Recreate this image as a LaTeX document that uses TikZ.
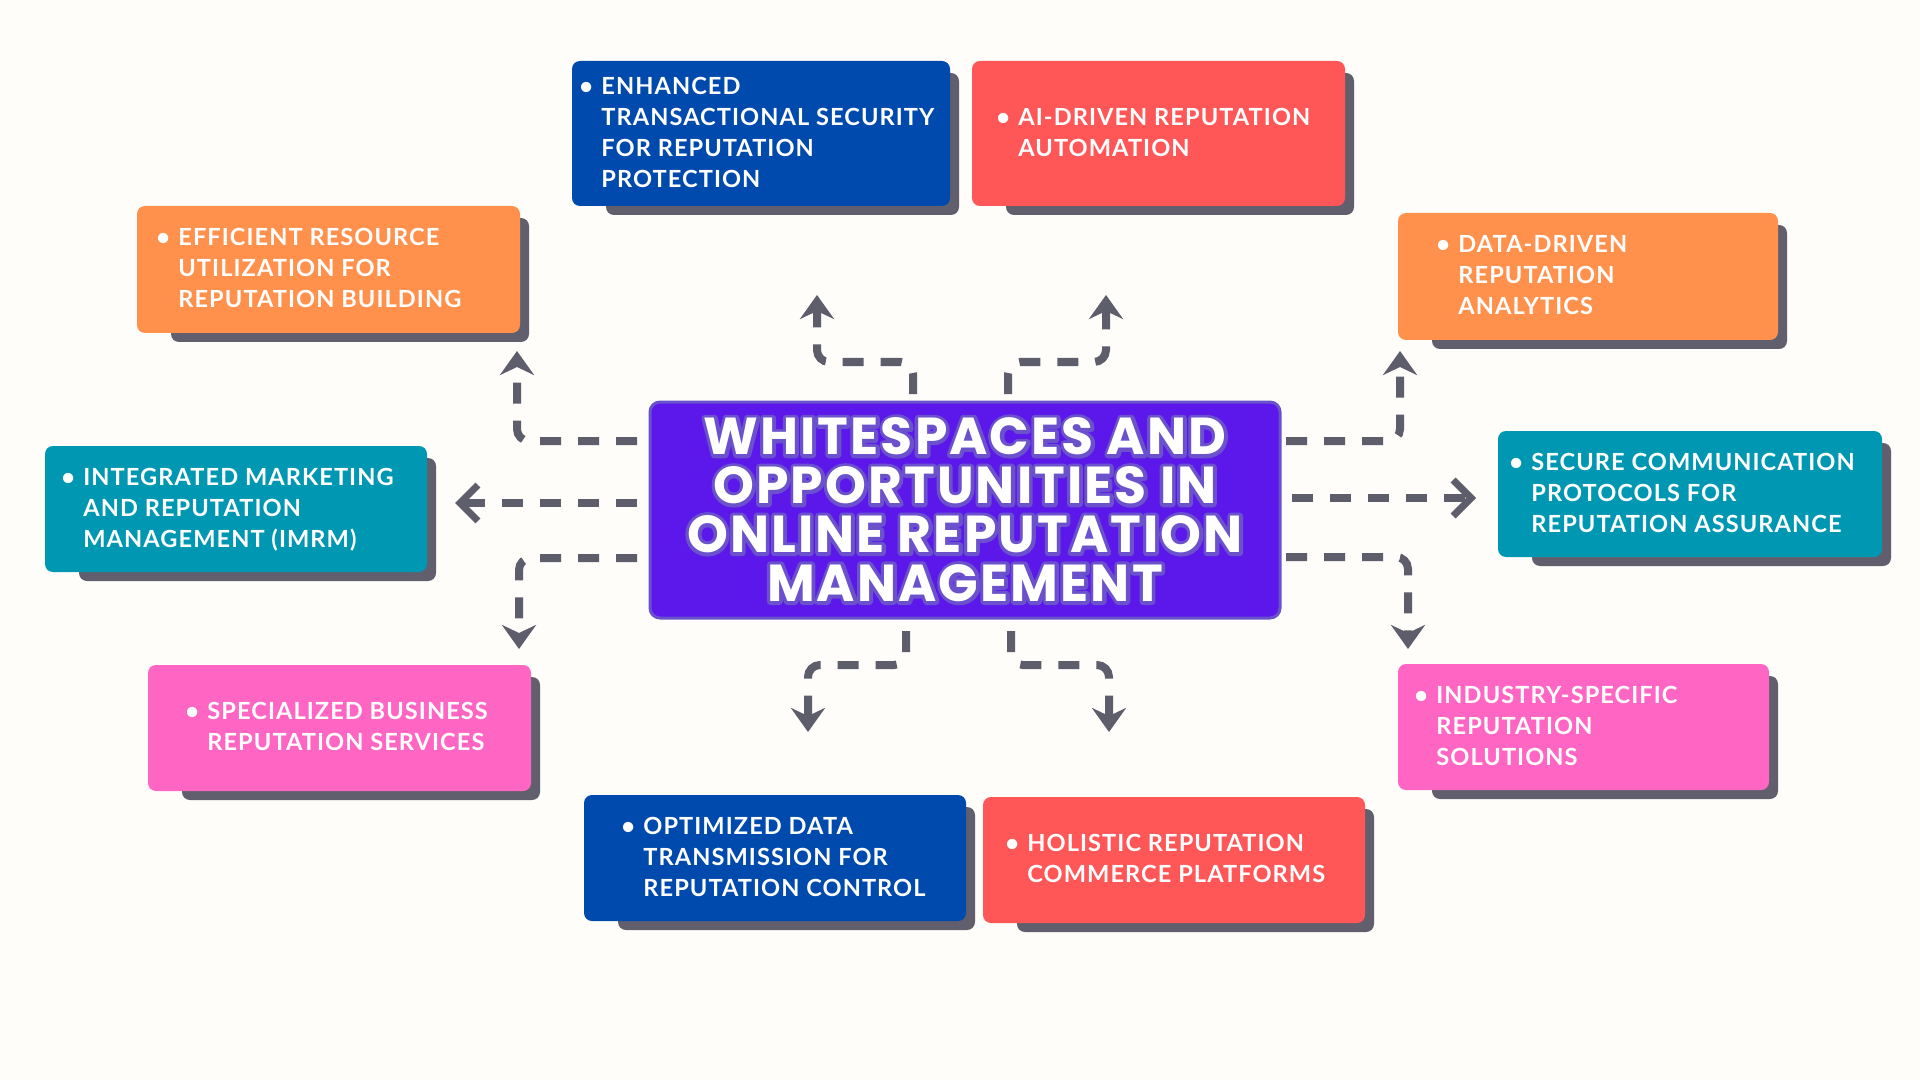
\documentclass[tikz,border=0pt]{standalone}
\usepackage{fontspec}
\setmainfont{Lato}[LetterSpace=4.5]
\newfontfamily\titlefont{Poppins}[LetterSpace=4.0]
\usetikzlibrary{arrows.meta}

\definecolor{bgcream}{HTML}{FEFDFA}
\definecolor{boxroyal}{HTML}{004AAD}
\definecolor{boxcoral}{HTML}{FF5757}
\definecolor{boxorange}{HTML}{FF914D}
\definecolor{boxteal}{HTML}{0097B2}
\definecolor{boxpink}{HTML}{FF66C4}
\definecolor{titleviolet}{HTML}{5C17EB}
\definecolor{titlerim}{HTML}{6A52CC}
\definecolor{shadowgray}{HTML}{615F6E}
\definecolor{flowgray}{HTML}{5E5D6C}

\tikzset{
  titlebox/.style={fill=titleviolet, draw=titlerim, line width=1.5pt,
    rounded corners=5pt, minimum width=315pt, minimum height=108pt,
    align=center, text=white, font=\titlefont\bfseries\fontsize{26}{24.5}\selectfont},
  topictext/.style={anchor=west, inner sep=0pt, text=white,
    font=\bfseries\fontsize{11.8}{15.5}\selectfont},
  flow/.style={draw=flowgray, line width=4pt, dash pattern=on 10.5pt off 8.5pt,
    rounded corners=6pt, -{Stealth[length=12pt, width=17pt, inset=4pt]}},
  flowstraight/.style={draw=flowgray, line width=4pt, dash pattern=on 10.5pt off 8.5pt,
    -{Straight Barb[length=9pt, width=18pt, line width=3.5pt]}},
}

% name, x0, y0, x1, y1, colour, text x, lines
\newcommand{\topic}[8]{%
  \fill[shadowgray, rounded corners=4pt] ({#2+34},{#3+12}) rectangle ({#4+9},{#5+9});
  \fill[#6, rounded corners=4pt] (#2,#3) rectangle (#4,#5);
  \node[topictext] (#1) at ({#7-22},{(#3+#5)/2+1})
    {\makebox[11pt][l]{\textbullet}\begin{tabular}[t]{@{}l@{}}#8\end{tabular}};
}

% title lines, drawn once as a lavender rim and once in white
\newcommand{\titlelines}{\begin{tabular}{@{}c@{}}WHITESPACES AND\\[-1.4pt]OPPORTUNITIES IN\\[-1.4pt]ONLINE REPUTATION\\[-1.4pt]MANAGEMENT\end{tabular}}
\newcommand{\rimon}{\special{pdf:literal direct 1 Tr 3.5 w 1 j 0.42 0.32 0.8 RG}}
\newcommand{\rimoff}{\special{pdf:literal direct 0 Tr 1 1 1 RG}}

\begin{document}
\begin{tikzpicture}[x=0.5pt, y=-0.5pt]
  \fill[bgcream] (0,0) rectangle (1920,1080);
  \useasboundingbox (0,0) rectangle (1920,1080);

  % topic boxes
  \topic{enhanced}{572}{61}{950}{206}{boxroyal}{601}{ENHANCED\\TRANSACTIONAL SECURITY\\FOR REPUTATION\\PROTECTION}
  \topic{aidriven}{972}{61}{1345}{206}{boxcoral}{1018}{AI-DRIVEN REPUTATION\\AUTOMATION}
  \topic{efficient}{137}{206}{520}{333}{boxorange}{178}{EFFICIENT RESOURCE\\UTILIZATION FOR\\REPUTATION BUILDING}
  \topic{datadriven}{1398}{213}{1778}{340}{boxorange}{1458}{DATA-DRIVEN\\REPUTATION\\ANALYTICS}
  \topic{integrated}{45}{446}{427}{572}{boxteal}{83}{INTEGRATED MARKETING\\AND REPUTATION\\MANAGEMENT (IMRM)}
  \topic{secure}{1498}{431}{1882}{557}{boxteal}{1531}{SECURE COMMUNICATION\\PROTOCOLS FOR\\REPUTATION ASSURANCE}
  \topic{specialized}{148}{665}{531}{791}{boxpink}{207}{SPECIALIZED BUSINESS\\REPUTATION SERVICES}
  \topic{industry}{1398}{664}{1769}{790}{boxpink}{1436}{INDUSTRY-SPECIFIC\\REPUTATION\\SOLUTIONS}
  \topic{optimized}{584}{795}{966}{921}{boxroyal}{643}{OPTIMIZED DATA\\TRANSMISSION FOR\\REPUTATION CONTROL}
  \topic{holistic}{983}{797}{1365}{923}{boxcoral}{1027}{HOLISTIC REPUTATION\\COMMERCE PLATFORMS}

  % centre
  \node[titlebox] (title) at (965,510) {\raisebox{-3.5pt}[\height][\depth]{{\rimon\titlelines\rimoff}\llap{\titlelines}}};

  % arrow ends
  \coordinate (s-eff) at (637,441);  \coordinate (e-eff) at (517,351);
  \coordinate (s-int) at (637,503);  \coordinate (e-int) at (455,503);
  \coordinate (s-spe) at (637,558);  \coordinate (e-spe) at (519,649);
  \coordinate (s-enh) at (913,394);  \coordinate (m-enh) at (817,362);  \coordinate (e-enh) at (817,295);
  \coordinate (s-ai)  at (1008,394); \coordinate (m-ai)  at (1106,362); \coordinate (e-ai)  at (1106,295);
  \coordinate (s-dat) at (1286,441); \coordinate (e-dat) at (1400,351);
  \coordinate (s-sec) at (1292,498); \coordinate (e-sec) at (1476,498);
  \coordinate (s-ind) at (1286,557); \coordinate (e-ind) at (1408,649);
  \coordinate (s-opt) at (906,631);  \coordinate (m-opt) at (808,665);  \coordinate (e-opt) at (808,732);
  \coordinate (s-hol) at (1011,631); \coordinate (m-hol) at (1109,665); \coordinate (e-hol) at (1109,732);

  \draw[flow] (s-eff) -| (e-eff);
  \draw[flowstraight] (s-int) -- (e-int);
  \draw[flow] (s-spe) -| (e-spe);
  \draw[flow] (s-enh) |- (m-enh) -- (e-enh);
  \draw[flow] (s-ai) |- (m-ai) -- (e-ai);
  \draw[flow] (s-dat) -| (e-dat);
  \draw[flowstraight] (s-sec) -- (e-sec);
  \draw[flow] (s-ind) -| (e-ind);
  \draw[flow] (s-opt) |- (m-opt) -- (e-opt);
  \draw[flow] (s-hol) |- (m-hol) -- (e-hol);
\end{tikzpicture}
\end{document}
